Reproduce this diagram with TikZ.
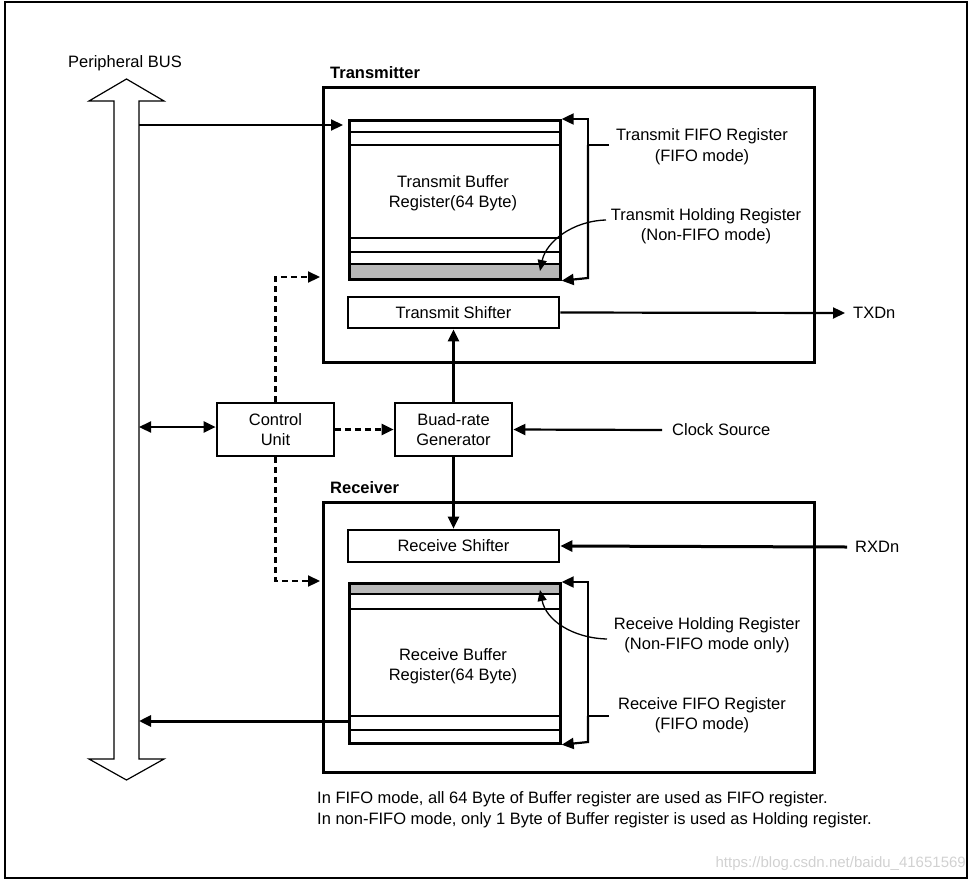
\documentclass[tikz,border=0pt]{standalone}
\usepackage{fontspec}
\setmainfont{Liberation Sans}
\usetikzlibrary{arrows.meta,calc}
\begin{document}
\begin{tikzpicture}[x=1pt,y=-1pt,
  font=\fontsize{16.5}{20.5}\selectfont,
  tip/.style={line width=2.2pt,-{Triangle[length=12pt,width=11pt]}},
  tipthick/.style={line width=3pt,-{Triangle[length=12pt,width=11pt]}},
  dtip/.style={line width=2.2pt,{Triangle[length=12pt,width=11pt]}-{Triangle[length=12pt,width=11pt]}},
  dashtip/.style={line width=2.2pt,dash pattern=on 6pt off 4pt,-{Triangle[length=12pt,width=11pt]}},
  curv/.style={line width=1.3pt,-{Triangle[length=11pt,width=9pt]}},
  bigbox/.style={draw,line width=3pt,anchor=north west,inner sep=0pt},
  smallbox/.style={draw,line width=2.7pt,inner sep=0pt,align=center},
  bufbox/.style={draw,line width=2.7pt,anchor=north west,inner sep=0pt},
  thinsep/.style={line width=1.7pt},
  thicksep/.style={line width=2.8pt},
  lbl/.style={align=center,inner sep=0pt},
  boxtitle/.style={anchor=west,inner sep=0pt,font=\fontsize{16.5}{20}\selectfont\bfseries}
]
\useasboundingbox (0,0) rectangle (975,884);
% outer frame
\draw[line width=1.4pt] (5,2) rectangle (967,878);

% peripheral bus (hollow double arrow)
\draw[line width=1.2pt,fill=white] (126.5,79) -- (164,101) -- (139,101) -- (139,759) -- (164,759)
  -- (126.5,780) -- (89,759) -- (114,759) -- (114,101) -- (89,101) -- cycle;
\node[lbl] (busl) at (125,63) {Peripheral BUS};
\coordinate (bA) at (139,125);
\coordinate (bB) at (139,427);
\coordinate (bC) at (139,721);

% Transmitter
\node[bigbox,minimum width=491pt,minimum height=275pt] (tx) at (322,86) {};
\node[boxtitle] (txt) at (330,73) {Transmitter};
\fill[black!28] (348,264) rectangle (559,278);
\draw[thinsep] (348,132) -- (559,132);
\draw[thicksep] (348,145) -- (559,145);
\draw[thicksep] (348,238) -- (559,238);
\draw[thinsep] (348,252) -- (559,252);
\draw[thinsep] (348,264) -- (559,264);
\node[bufbox,minimum width=211pt,minimum height=159pt] (tbuf) at (348,119) {};
\node[lbl] (tbuft) at (453,193) {Transmit Buffer\\Register(64 Byte)};
\node[smallbox,minimum width=211pt,minimum height=31pt] (tsh) at (453.5,312.5) {Transmit Shifter};

\node[lbl] (tfifo) at (702,146.5) {Transmit FIFO Register\\(FIFO mode)};
\node[lbl] (thold) at (706,226) {Transmit Holding Register\\(Non-FIFO mode)};
\coordinate (tfj) at (588,145);
\coordinate (tfe) at (609,145);
\draw[line width=2.2pt] (tfe) -- (tfj);
\draw[tip] (tfj) -- (588,119) -- (tbuf.north east);
\draw[tip] (tfj) -- (588,278) -- (tbuf.south east);
\coordinate (thc) at (606,220);
\draw[curv] (thc) .. controls (572,221) and (546,242) .. (540,271);

% Receiver
\node[bigbox,minimum width=491pt,minimum height=270pt] (rx) at (322,501) {};
\node[boxtitle] (rxt) at (330,488) {Receiver};
\node[smallbox,minimum width=211pt,minimum height=32pt] (rsh) at (453.5,546) {Receive Shifter};
\fill[black!28] (348,582) rectangle (559,594);
\draw[thinsep] (348,594) -- (559,594);
\draw[thinsep] (348,609) -- (559,609);
\draw[thicksep] (348,716) -- (559,716);
\draw[thinsep] (348,730) -- (559,730);
\node[bufbox,minimum width=211pt,minimum height=160pt] (rbuf) at (348,582) {};
\node[lbl] (rbuft) at (453,666) {Receive Buffer\\Register(64 Byte)};

\node[lbl] (rhold) at (707,635) {Receive Holding Register\\(Non-FIFO mode only)};
\node[lbl] (rfifo) at (702,715) {Receive FIFO Register\\(FIFO mode)};
\coordinate (rfj) at (588,716);
\coordinate (rfe) at (609,716);
\draw[line width=2.2pt] (rfe) -- (rfj);
\draw[tip] (rfj) -- (588,582) -- (rbuf.north east);
\draw[tip] (rfj) -- (588,742) -- (rbuf.south east);
\coordinate (rhc) at (607,639);
\draw[curv] (rhc) .. controls (572,638) and (546,620) .. (540,590);

% Control unit and baud-rate generator
\node[smallbox,minimum width=117pt,minimum height=53pt] (cu) at (275.5,429.5) {Control\\Unit};
\node[smallbox,minimum width=117pt,minimum height=53pt] (brg) at (453.5,429.5) {Buad-rate\\Generator};

% external signals
\node[anchor=west,inner xsep=8pt,inner ysep=0pt] (txd) at (845,313) {TXDn};
\node[anchor=west,inner xsep=10pt,inner ysep=0pt] (clk) at (662,430) {Clock Source};
\node[anchor=west,inner xsep=8pt,inner ysep=0pt] (rxd) at (847,547) {RXDn};

% connectors
\draw[tip,shorten >=5pt] (bA) -- (tbuf.west |- bA);
\draw[dtip] (bB) -- (cu.west |- bB);
\draw[tipthick] (rbuf.west |- bC) -- (bC);
\draw[dashtip] (cu) -- (brg);
\coordinate (tl) at (320,277);
\coordinate (rl) at (320,581);
\draw[dashtip] (cu.north) |- (tl);
\draw[dashtip] (cu.south) |- (rl);
\draw[tip] (brg.north) -- (tsh.south);
\draw[tip] (brg.south) -- (rsh.north);
\draw[tip] (tsh.east) -- (txd.west);
\draw[tip] (clk.west) -- (brg.east);
\draw[tipthick] (rxd.west) -- (rsh.east);

% footnotes
\node[anchor=west,inner sep=0pt] (fn1) at (317,799) {In FIFO mode, all 64 Byte of Buffer register are used as FIFO register.};
\node[anchor=west,inner sep=0pt] (fn2) at (317,820) {In non-FIFO mode, only 1 Byte of Buffer register is used as Holding register.};

% watermark
\node[anchor=east,inner sep=0pt,text=black!18,font=\fontsize{15}{18}\selectfont] (wm) at (966,864) {https://blog.csdn.net/baidu\_41651569};
\end{tikzpicture}
\end{document}
